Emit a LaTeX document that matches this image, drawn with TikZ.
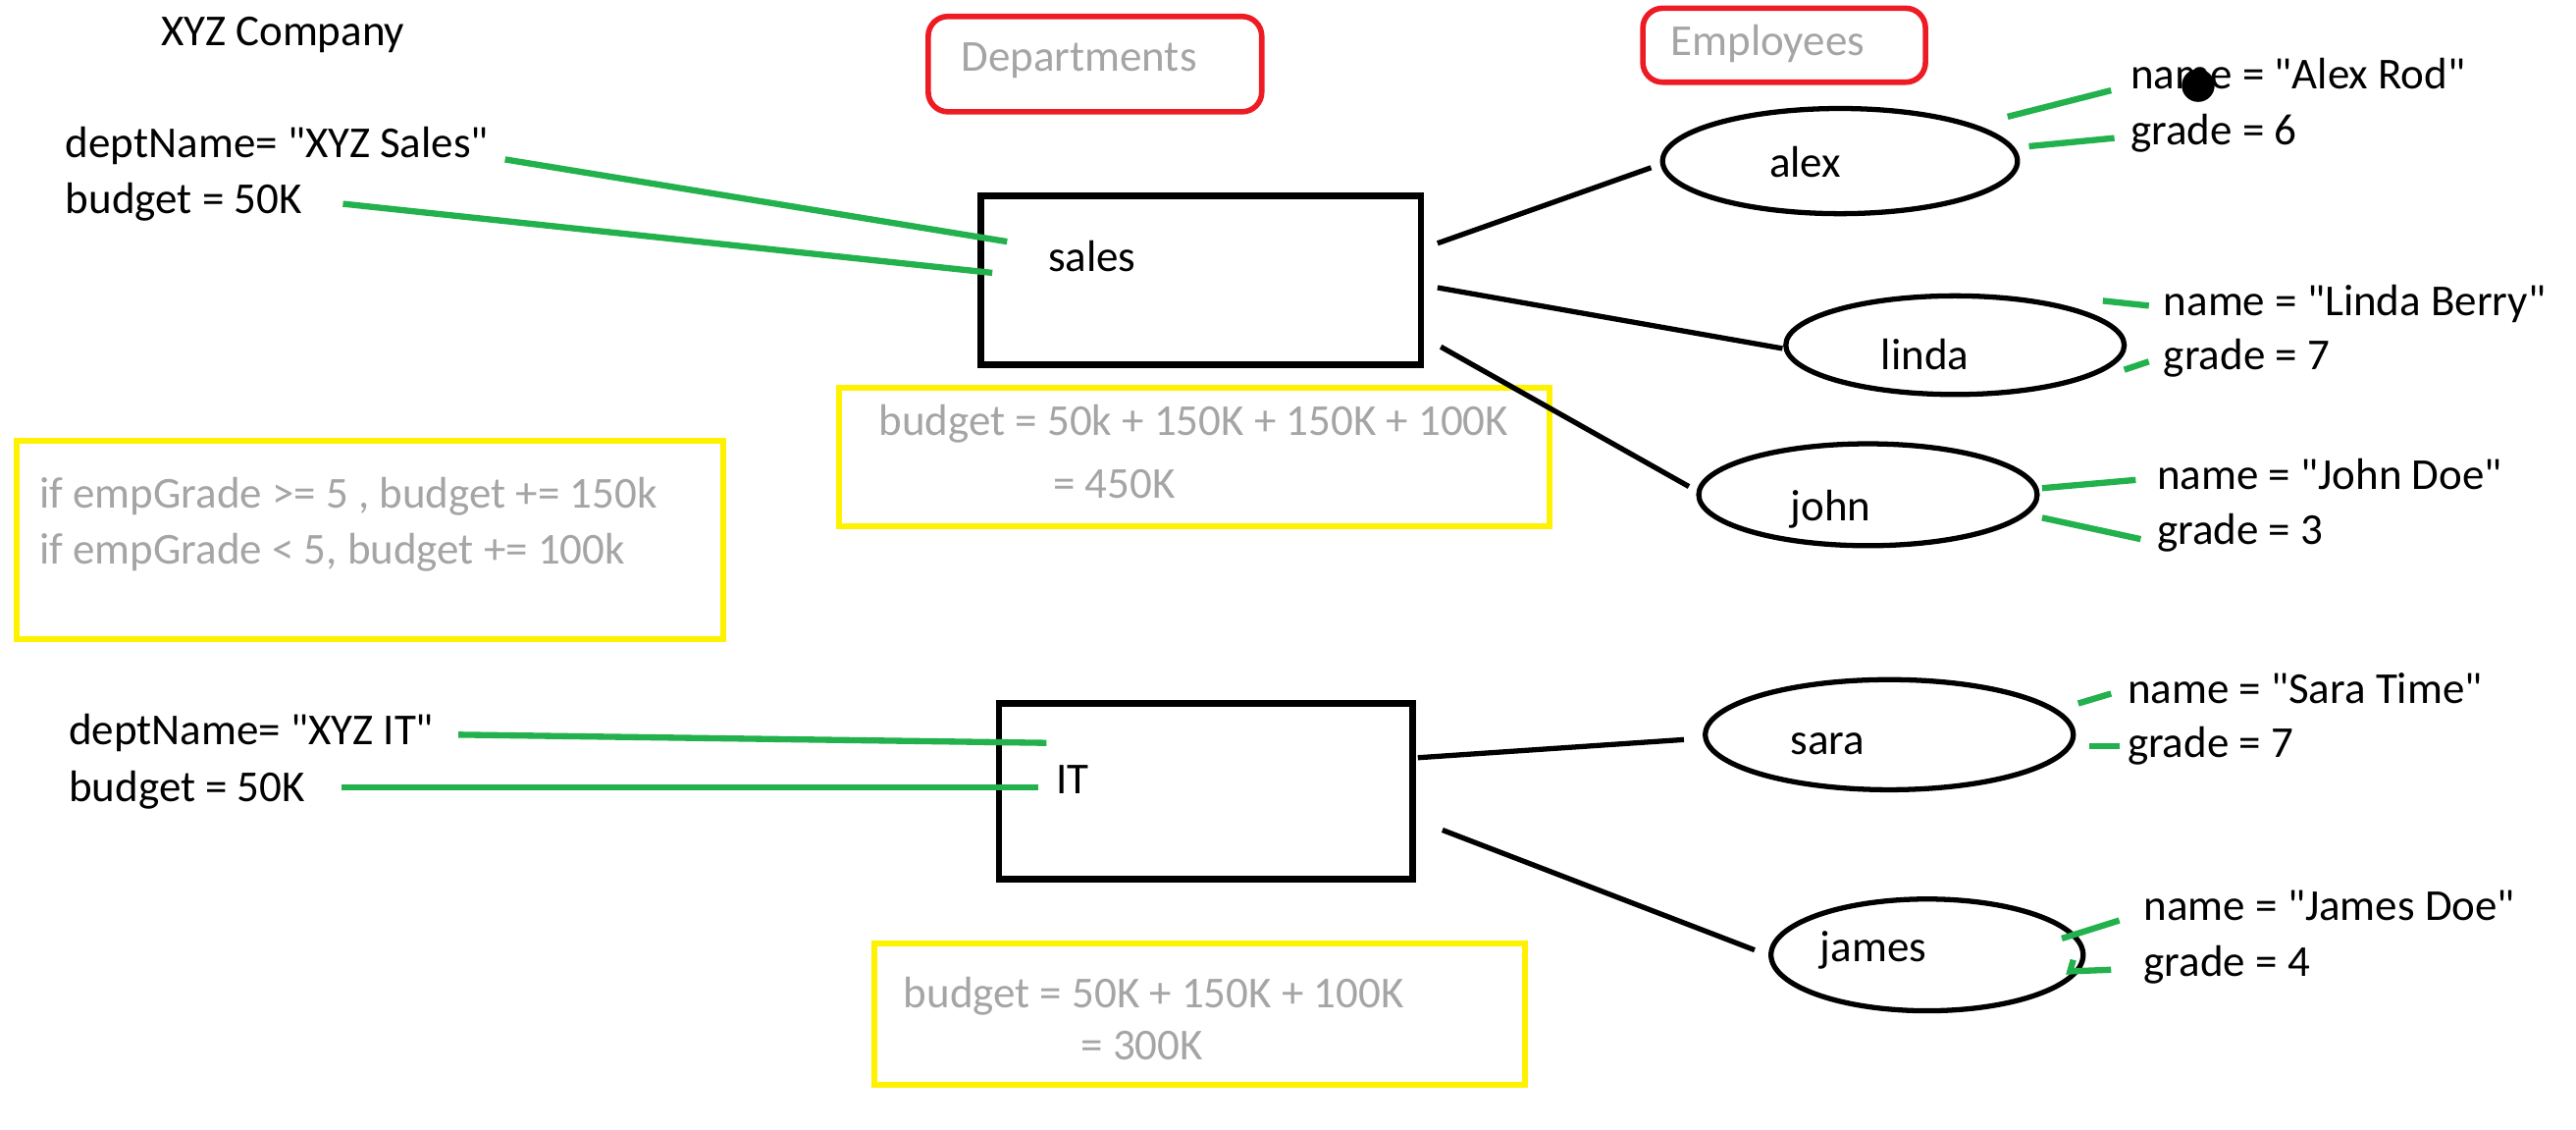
\documentclass[tikz,border=0pt]{standalone}
\usepackage{fontspec}
\setmainfont{Carlito}[Ligatures=TeXOff]
\usepackage{tikz}
\usepackage{xcolor}
\usetikzlibrary{shapes.geometric}
\definecolor{paintgreen}{RGB}{34,177,76}
\definecolor{paintred}{RGB}{237,28,36}
\definecolor{paintyellow}{RGB}{255,242,0}
\definecolor{notegray}{RGB}{165,165,165}
\newcommand{\px}{0.01674cm}

\begin{document}
\begin{tikzpicture}[x = 0.01674cm, y = -0.01674cm,
    every node/.style = {font=\fontsize{12.8}{15}\selectfont, inner sep=0pt, outer sep=0pt},
    txt/.style = {anchor=base west},
    note/.style = {anchor=base west, text=notegray},
    dept/.style = {draw, line width=1.9pt},
    emp/.style = {draw, ellipse, line width=1.5pt},
    link/.style = {line width=1.5pt},
    attr/.style = {paintgreen, line width=1.8pt},
    sumbox/.style = {draw=paintyellow, line width=1.7pt},
    tagbox/.style = {draw=paintred, line width=1.6pt, rounded corners=0.2cm}]
  \useasboundingbox (0,0) rectangle (1568,687);

  % headings
  \node[txt] (company) at (98,28) {XYZ Company};
  \node[tagbox, minimum width=203*\px, minimum height=58*\px] (deptTag) at (666.5,39) {};
  \node[note] (deptHead) at (585,43) {Departments};
  \node[tagbox, minimum width=172*\px, minimum height=45*\px] (empTag) at (1086,27.5) {};
  \node[note] (empHead) at (1017,34) {Employees};

  % budget notes
  \node[sumbox, minimum width=430*\px, minimum height=121*\px] (rules) at (225,328.5) {};
  \node[note] (rule1) at (24,309) {if empGrade >= 5 , budget += 150k};
  \node[note] (rule2) at (24,343) {if empGrade < 5, budget += 100k};
  \node[sumbox, minimum width=432*\px, minimum height=84*\px] (salesSum) at (727,278) {};
  \node[note] (salesSum1) at (535,265) {budget = 50k + 150K + 150K + 100K};
  \node[note] (salesSum2) at (641,303) {= 450K};
  \node[sumbox, minimum width=396*\px, minimum height=86*\px] (itSum) at (730,617) {};
  \node[note] (itSum1) at (550,613) {budget = 50K + 150K + 100K};
  \node[note] (itSum2) at (658,645) {= 300K};

  % departments
  \node[dept, minimum width=268*\px, minimum height=103*\px] (sales) at (731,170.5) {};
  \node[txt] (salesTxt) at (638,165) {sales};
  \node[dept, minimum width=252*\px, minimum height=107*\px] (it) at (734,481.5) {};
  \node[txt] (itTxt) at (643,483) {IT};

  \node[txt] (salesName) at (40,96) {deptName= "XYZ Sales"};
  \node[txt] (salesBudget) at (40,130) {budget = 50K};
  \node[txt] (itName) at (42,453) {deptName= "XYZ IT"};
  \node[txt] (itBudget) at (42,488) {budget = 50K};

  \draw[attr] ([shift={(10,1)}]salesName.base east) -- ([shift={(16,-23.5)}]sales.west);
  \draw[attr] ([shift={(25,-6)}]salesBudget.base east) -- ([shift={(7,-4.5)}]sales.west);
  \draw[attr] ([shift={(15,-6)}]itName.base east) -- ([shift={(29,-29.5)}]it.west);
  \draw[attr] ([shift={(22,-9)}]itBudget.base east) -- ([shift={(24,-2.5)}]it.west);

  % employees
  \node[emp, minimum width=216*\px, minimum height=64*\px] (alex) at (1120,98) {};
  \node[txt] (alexTxt) at (1077,108) {alex};
  \node[emp, minimum width=206*\px, minimum height=60*\px] (linda) at (1190,210) {};
  \node[txt] (lindaTxt) at (1145,225) {linda};
  \node[emp, minimum width=206*\px, minimum height=62*\px] (john) at (1137,301) {};
  \node[txt] (johnTxt) at (1090,317) {john};
  \node[emp, minimum width=224*\px, minimum height=67*\px] (sara) at (1150,447) {};
  \node[txt] (saraTxt) at (1090,459) {sara};
  \node[emp, minimum width=190*\px, minimum height=68*\px] (james) at (1173,581) {};
  \node[txt] (jamesTxt) at (1108,585) {james};

  \draw[link] ([shift={(10,-22.5)}]sales.east) -- ([shift={(-7,4)}]alex.west);
  \draw[link] ([shift={(10,4.5)}]sales.east) -- ([shift={(-2,2)}]linda.west);
  \draw[link] ([shift={(12,40.5)}]sales.east) -- ([shift={(-6,-5)}]john.west);
  \draw[link] ([shift={(3,-20.5)}]it.east) -- ([shift={(-13,3)}]sara.west);
  \draw[link] ([shift={(18,23.5)}]it.east) -- ([shift={(-10,-3)}]james.west);

  % employee fields
  \node[txt] (alexName) at (1297,54) {name = "Alex Rod"};
  \node[txt] (alexGrade) at (1297,88) {grade = 6};
  \node[txt] (lindaName) at (1317,192) {name = "Linda Berry"};
  \node[txt] (lindaGrade) at (1317,225) {grade = 7};
  \node[txt] (johnName) at (1313,298) {name = "John Doe"};
  \node[txt] (johnGrade) at (1313,331) {grade = 3};
  \node[txt] (saraName) at (1295,428) {name = "Sara Time"};
  \node[txt] (saraGrade) at (1295,461) {grade = 7};
  \node[txt] (jamesName) at (1305,560) {name = "James Doe"};
  \node[txt] (jamesGrade) at (1305,594) {grade = 4};

  \draw[attr] ([shift={(-6,-27)}]alex.east) -- ([shift={(-12,1)}]alexName.base west);
  \draw[attr] ([shift={(7,-9)}]alex.east) -- ([shift={(-10,-4)}]alexGrade.base west);
  \draw[attr] ([shift={(-13,-27)}]linda.east) -- ([shift={(-9,-6)}]lindaName.base west);
  \draw[attr] ([shift={(0,15)}]linda.east) -- ([shift={(-9,-5)}]lindaGrade.base west);
  \draw[attr] ([shift={(3,-4)}]john.east) -- ([shift={(-13,-6)}]johnName.base west);
  \draw[attr] ([shift={(3,14)}]john.east) -- ([shift={(-10,-3)}]johnGrade.base west);
  \draw[attr] ([shift={(3,-19)}]sara.east) -- ([shift={(-10,-6)}]saraName.base west);
  \draw[attr] ([shift={(10,7)}]sara.east) -- ([shift={(-5,-7)}]saraGrade.base west);
  \draw[attr] ([shift={(-13,-10)}]james.east) -- ([shift={(-15,0)}]jamesName.base west);
  \draw[attr] ([shift={(-6,3)}]james.east) -- ([shift={(-8,10)}]james.east) -- ([shift={(-20,-4)}]jamesGrade.base west);

  \node[circle, fill, minimum size=20*\px] (cursor) at (1338,52) {};
\end{tikzpicture}
\end{document}
